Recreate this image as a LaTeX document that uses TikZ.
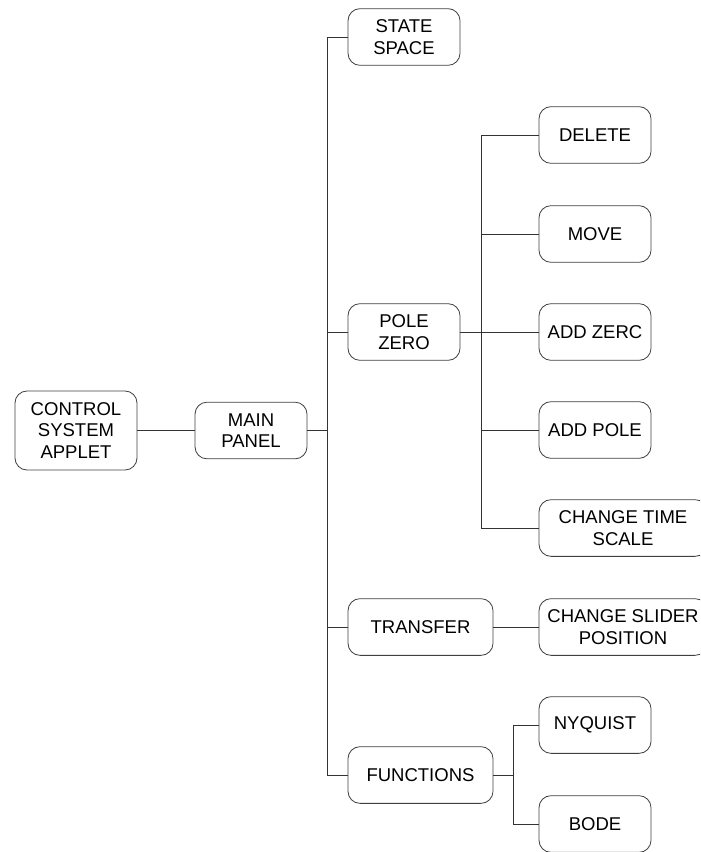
\documentclass[tikz,border=0pt]{standalone}
\usepackage{fontspec}
\setmainfont{Liberation Sans}
\usepackage{tikz}
\usepackage{xcolor}

\begin{document}
\begin{tikzpicture}[x=0.03cm,y=-0.03cm,
    box/.style={draw=black!75,line width=0.7pt,rounded corners=0.36cm,
      minimum width=3.36cm,minimum height=1.7cm,align=center,
      font=\fontsize{15.8}{18.4}\selectfont,inner sep=1pt},
    wide/.style={box,minimum width=5.04cm},
    mid/.style={box,minimum width=4.35cm},
    link/.style={draw=black!80,line width=0.7pt}]
    \useasboundingbox (0,0) rectangle (700,852);
    \clip (0,0) rectangle (700,852);

    % Root and main panel
    \node[box,minimum width=3.66cm,minimum height=2.37cm] (applet) at (76,430.5) {CONTROL\\SYSTEM\\APPLET};
    \node[box] (panel) at (251,430.5) {MAIN\\PANEL};

    % First level
    \node[box] (state) at (404,37) {STATE\\SPACE};
    \node[box] (pole) at (404,332) {POLE\\ZERO};
    \node[mid] (transfer) at (420.5,627) {TRANSFER};
    \node[mid] (functions) at (420.5,775) {FUNCTIONS};

    % Pole zero branch
    \node[box] (delete) at (595,135) {DELETE};
    \node[box] (move) at (595,234) {MOVE};
    \node[box] (addzero) at (595,332) {ADD ZERC};
    \node[box] (addpole) at (595,430) {ADD POLE};
    \node[wide] (timescale) at (623,528) {CHANGE TIME\\SCALE};

    % Transfer and functions branches
    \node[wide] (slider) at (623,627) {CHANGE SLIDER\\POSITION};
    \node[box] (nyquist) at (595,725) {NYQUIST};
    \node[box] (bode) at (595,824) {BODE};

    % Junctions
    \coordinate (trunk) at (327,430.5);
    \coordinate (polejoin) at (481,332);
    \coordinate (funcjoin) at (513,775);

    % Connectors
    \draw[link] (applet) -- (panel);
    \draw[link] (panel) -- (trunk);
    \draw[link] (state.west) -| (trunk);
    \draw[link] (pole.west) -| (trunk);
    \draw[link] (transfer.west) -| (trunk);
    \draw[link] (functions.west) -| (trunk);

    \draw[link] (pole) -- (addzero);
    \draw[link] (delete.west) -| (polejoin);
    \draw[link] (move.west) -| (polejoin);
    \draw[link] (addpole.west) -| (polejoin);
    \draw[link] (timescale.west) -| (polejoin);

    \draw[link] (transfer) -- (slider);

    \draw[link] (functions) -- (funcjoin);
    \draw[link] (nyquist.west) -| (funcjoin);
    \draw[link] (bode.west) -| (funcjoin);
\end{tikzpicture}
\end{document}
